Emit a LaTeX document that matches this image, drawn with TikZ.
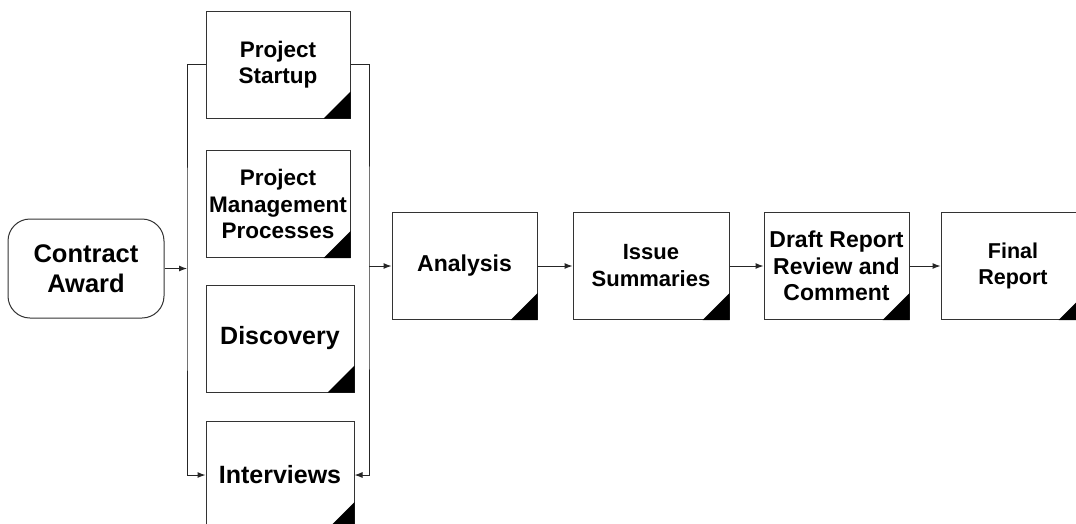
\documentclass[tikz,border=0pt]{standalone}
\usepackage{fontspec}
\setmainfont{Liberation Sans}
\usetikzlibrary{arrows.meta}

\begin{document}
\begin{tikzpicture}[x=1pt, y=-1pt,
    task/.style={rectangle, draw=black!80, line width=1pt, fill=white, align=center, inner sep=0pt,
      minimum width=145, minimum height=107, font=\bfseries\fontsize{22.5}{26.5}\selectfont},
    start/.style={task, rounded corners=22, minimum width=156, minimum height=99,
      font=\bfseries\fontsize{25.5}{30}\selectfont},
    flow/.style={-{Latex[length=8pt,width=6pt]}, line width=1pt, draw=black!85}]
    \useasboundingbox (0,0) rectangle (1076,523);
    \clip (0,0) rectangle (1076,523);
    \node (award) [start] at (86, 268.5) {Contract\\Award};
    \node (startup) [task, minimum width=144] at (278, 64.5) {Project\\Startup};
    \node (pmproc) [task, minimum width=144] at (278, 204) {Project\\Management\\Processes};
    \node (discovery) [task, minimum width=148, font=\bfseries\fontsize{25}{30}\selectfont] at (280, 338.5) {Discovery};
    \node (interviews) [task, minimum width=148, font=\bfseries\fontsize{25}{30}\selectfont] at (280, 475) {Interviews};
    \node (analysis) [task, font=\bfseries\fontsize{23}{28}\selectfont] at (464.5, 266) {Analysis};
    \node (issues) [task, minimum width=156, font=\bfseries\fontsize{22}{27}\selectfont] at (651, 266) {Issue\\Summaries};
    \node (draft) [task, font=\bfseries\fontsize{23}{26.5}\selectfont] at (836.5, 266) {Draft Report\\Review and\\Comment};
    \node (final) [task, minimum width=144, font=\bfseries\fontsize{21.5}{26}\selectfont] at (1013, 266) {Final\\Report};
    % corner marks
    \foreach \n in {startup, pmproc, discovery, interviews, analysis, issues, draft, final}
      \fill (\n.south east) -- ++(-27,0) -- ++(27,-27) -- cycle;
    \coordinate (lbus) at (187, 268.5);
    \coordinate (rbus) at (369, 266);
    \draw [flow] (award.east) -- (lbus);
    \draw [flow] (startup.west) -| (lbus) |- (interviews.west);
    \draw [flow] (startup.east) -| (rbus) |- (interviews.east);
    \draw [flow] (rbus) -- (analysis.west);
    \draw [flow] (analysis) -- (issues);
    \draw [flow] (issues) -- (draft);
    \draw [flow] (draft) -- (final);
\end{tikzpicture}
\end{document}
